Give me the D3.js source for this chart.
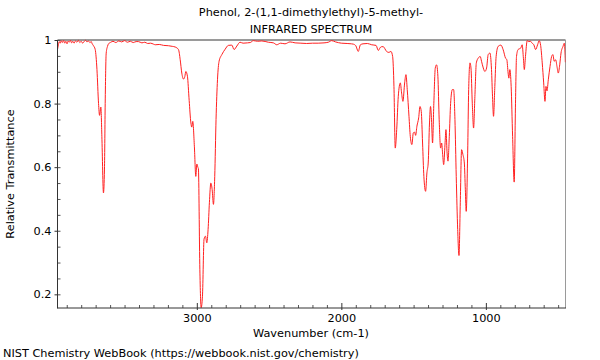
<!DOCTYPE html>
<html>
<head>
<meta charset="utf-8">
<script src="https://cdn.jsdelivr.net/npm/d3@7"></script>
<style>
  html, body { margin: 0; padding: 0; background: #fff; }
  svg { display: block; font-family: "DejaVu Sans", sans-serif; }
</style>
</head>
<body>
<svg id="chart" width="600" height="360"></svg>
<script>
const titleLines = ["Phenol, 2-(1,1-dimethylethyl)-5-methyl-", "INFRARED SPECTRUM"];
const xLabel = "Wavenumber (cm-1)";
const yLabel = "Relative Transmittance";
const footer = "NIST Chemistry WebBook (https://webbook.nist.gov/chemistry)";
const xTickLabels = [3000, 2000, 1000];
const yTickLabels = [0.2, 0.4, 0.6, 0.8, 1];

const wavenumbers = [
  3964, 3958, 3952, 3945, 3938, 3930, 3922, 3914, 3906, 3898, 3890, 3882, 3874, 3866, 3858, 3850,
  3840, 3830, 3820, 3810, 3800, 3790, 3780, 3770, 3760, 3750, 3740, 3730, 3726, 3715, 3703, 3691,
  3680, 3673, 3664, 3657, 3646, 3639, 3634, 3627, 3618, 3611, 3595, 3580, 3560, 3540, 3520, 3500,
  3480, 3460, 3440, 3420, 3404, 3380, 3360, 3340, 3320, 3300, 3288, 3260, 3230, 3196, 3170, 3150,
  3127, 3115, 3104, 3092, 3083, 3076, 3065, 3053, 3041, 3035, 3028, 3017, 3007, 3000, 2993, 2989,
  2979, 2970, 2961, 2950, 2940, 2931, 2922, 2913, 2903, 2894, 2885, 2876, 2867, 2857, 2846, 2827,
  2804, 2782, 2758, 2742, 2723, 2701, 2680, 2650, 2630, 2609, 2580, 2550, 2505, 2470, 2447, 2420,
  2390, 2355, 2320, 2280, 2240, 2200, 2160, 2120, 2090, 2067, 2040, 2000, 1960, 1930, 1917, 1900,
  1883, 1868, 1850, 1820, 1790, 1760, 1744, 1733, 1722, 1710, 1698, 1687, 1671, 1657, 1645, 1636,
  1627, 1617, 1606, 1592, 1583, 1574, 1562, 1553, 1544, 1532, 1523, 1512, 1502, 1493, 1486, 1477,
  1465, 1456, 1447, 1438, 1429, 1417, 1408, 1399, 1390, 1383, 1376, 1369, 1360, 1350, 1341, 1332,
  1323, 1313, 1306, 1299, 1292, 1283, 1276, 1269, 1262, 1253, 1244, 1232, 1223, 1214, 1205, 1195,
  1186, 1177, 1168, 1159, 1149, 1142, 1136, 1126, 1119, 1110, 1103, 1094, 1085, 1076, 1066, 1053,
  1039, 1030, 1018, 1007, 995, 984, 972, 961, 954, 947, 938, 929, 915, 896, 880, 864,
  855, 846, 841, 834, 825, 815, 804, 795, 788, 777, 758, 749, 740, 734, 726, 714,
  703, 691, 680, 668, 656, 642, 631, 621, 610, 600, 591, 584, 577, 568, 556, 545,
  536, 527, 517, 508, 499, 489, 480, 466, 457, 450
];
const transmittance = [
  0.970, 0.985, 0.995, 0.990, 0.998, 0.992, 0.999, 0.990, 0.996, 0.988, 0.997, 0.993, 0.999, 0.991, 0.996, 0.990,
  0.997, 0.993, 0.999, 0.992, 0.996, 0.990, 0.995, 0.999, 0.994, 0.997, 0.992, 0.995, 0.990, 0.982, 0.970, 0.907,
  0.800, 0.763, 0.789, 0.697, 0.519, 0.594, 0.800, 0.959, 0.980, 0.988, 0.993, 0.996, 0.992, 0.997, 0.994, 0.998,
  0.993, 0.996, 0.992, 0.995, 0.995, 0.991, 0.993, 0.989, 0.990, 0.987, 0.985, 0.986, 0.983, 0.982, 0.980, 0.978,
  0.970, 0.938, 0.896, 0.877, 0.885, 0.901, 0.886, 0.810, 0.739, 0.726, 0.744, 0.666, 0.571, 0.610, 0.600, 0.595,
  0.279, 0.158, 0.194, 0.374, 0.383, 0.362, 0.404, 0.488, 0.550, 0.530, 0.483, 0.571, 0.750, 0.875, 0.933, 0.954,
  0.971, 0.983, 0.984, 0.970, 0.981, 0.993, 0.990, 0.991, 0.992, 0.998, 0.996, 0.997, 0.993, 0.991, 0.985, 0.990,
  0.988, 0.994, 0.991, 0.990, 0.989, 0.990, 0.990, 0.991, 0.993, 0.998, 0.994, 0.990, 0.989, 0.988, 0.987, 0.982,
  0.964, 0.985, 0.988, 0.989, 0.985, 0.983, 0.967, 0.975, 0.979, 0.979, 0.972, 0.964, 0.961, 0.964, 0.948, 0.854,
  0.660, 0.718, 0.823, 0.865, 0.833, 0.807, 0.865, 0.891, 0.844, 0.760, 0.697, 0.671, 0.708, 0.710, 0.700, 0.729,
  0.755, 0.791, 0.775, 0.676, 0.571, 0.524, 0.582, 0.613, 0.739, 0.791, 0.749, 0.676, 0.801, 0.912, 0.922, 0.886,
  0.749, 0.660, 0.676, 0.640, 0.608, 0.670, 0.718, 0.650, 0.619, 0.697, 0.800, 0.844, 0.844, 0.750, 0.571, 0.404,
  0.322, 0.488, 0.655, 0.640, 0.613, 0.529, 0.461, 0.644, 0.844, 0.928, 0.912, 0.801, 0.723, 0.822, 0.928, 0.943,
  0.948, 0.933, 0.912, 0.901, 0.912, 0.954, 0.959, 0.907, 0.823, 0.760, 0.854, 0.948, 0.980, 0.984, 0.969, 0.943,
  0.938, 0.896, 0.880, 0.907, 0.854, 0.697, 0.553, 0.801, 0.948, 0.970, 0.975, 0.985, 0.941, 0.907, 0.948, 0.998,
  0.995, 0.996, 0.990, 0.985, 0.970, 0.985, 0.998, 0.983, 0.928, 0.865, 0.807, 0.854, 0.840, 0.875, 0.917, 0.948,
  0.954, 0.933, 0.938, 0.917, 0.896, 0.922, 0.959, 0.980, 0.990, 0.930
];

const FS = 11.3;
const svg = d3.select("#chart");
const mLeft = 57.5, mRight = 565.5, mTop = 40, mBottom = 308;

const x = d3.scaleLinear().domain([3964, 449]).range([mLeft, mRight]);
const y = d3.scaleLinear().domain([0.157, 1.0]).range([mBottom, mTop]);

const data = wavenumbers.map((w, i) => [w, transmittance[i]]);
svg.append("defs").append("clipPath").attr("id", "clip")
  .append("rect").attr("x", mLeft).attr("y", mTop - 1).attr("width", mRight - mLeft).attr("height", mBottom - mTop + 1);

// frame: top & right gray
svg.append("line").attr("x1", mLeft).attr("x2", mRight).attr("y1", mTop).attr("y2", mTop)
  .attr("stroke", "#9a9a9a").attr("stroke-width", 2);
svg.append("line").attr("x1", mRight).attr("x2", mRight).attr("y1", mTop).attr("y2", mBottom)
  .attr("stroke", "#9a9a9a").attr("stroke-width", 1);

svg.append("path").datum(data)
  .attr("clip-path", "url(#clip)")
  .attr("fill", "none").attr("stroke", "#ff2020").attr("stroke-width", 1)
  .attr("stroke-linejoin", "round")
  .attr("d", d3.line().x(d => x(d[0])).y(d => y(d[1])).curve(d3.curveMonotoneX));

// X axis: minor ticks every 100 inside
const xMinor = d3.range(500, 4000, 100).filter(v => v % 1000 !== 0 && v <= 3964 && v >= 449);
const gx = svg.append("g").attr("transform", `translate(0,${mBottom})`);
gx.call(d3.axisTop(x).tickValues(xMinor).tickSize(3).tickFormat(""))
  .call(g => g.select(".domain").remove());
gx.selectAll("line").attr("stroke", "#555");
const gxMaj = svg.append("g").attr("transform", `translate(0,${mBottom})`);
gxMaj.call(d3.axisTop(x).tickValues(xTickLabels).tickSize(5).tickFormat(""))
  .call(g => g.select(".domain").remove());
gxMaj.selectAll("line").attr("stroke", "#333");
const gxLab = svg.append("g").attr("transform", `translate(0,${mBottom})`);
gxLab.call(d3.axisBottom(x).tickValues(xTickLabels).tickSize(2).tickPadding(4).tickFormat(d3.format("d")))
  .call(g => g.select(".domain").remove());
gxLab.selectAll("line").attr("stroke", "#333");
gxLab.selectAll("text").attr("font-size", FS).attr("font-family", "DejaVu Sans").attr("fill", "#000");

// Y axis
const yMinor = d3.range(4, 21).map(v => v * 0.05);
const gy = svg.append("g").attr("transform", `translate(${mLeft},0)`);
gy.call(d3.axisRight(y).tickValues(yMinor).tickSize(3).tickFormat(""))
  .call(g => g.select(".domain").remove());
gy.selectAll("line").attr("stroke", "#555");
const gyLab = svg.append("g").attr("transform", `translate(${mLeft},0)`);
gyLab.call(d3.axisLeft(y).tickValues(yTickLabels).tickSize(3).tickPadding(3).tickFormat(d => d === 1 ? "1" : d3.format(".1f")(d)))
  .call(g => g.select(".domain").remove());
gyLab.selectAll("line").attr("stroke", "#333");
gyLab.selectAll("text").attr("font-size", FS).attr("font-family", "DejaVu Sans").attr("fill", "#000");

// left & bottom axis lines
svg.append("line").attr("x1", mLeft).attr("x2", mLeft).attr("y1", mTop).attr("y2", mBottom + 0.5)
  .attr("stroke", "#333").attr("stroke-width", 1);
svg.append("line").attr("x1", mLeft).attr("x2", mRight + 0.5).attr("y1", mBottom).attr("y2", mBottom)
  .attr("stroke", "#333").attr("stroke-width", 1);

// titles
svg.append("text").attr("x", 311).attr("y", 16).attr("text-anchor", "middle")
  .attr("font-size", FS).text(titleLines[0]);
svg.append("text").attr("x", 311).attr("y", 33).attr("text-anchor", "middle")
  .attr("font-size", FS).text(titleLines[1]);
svg.append("text").attr("x", 311).attr("y", 337).attr("text-anchor", "middle")
  .attr("font-size", FS).text(xLabel);
svg.append("text").attr("transform", "translate(14,174) rotate(-90)").attr("text-anchor", "middle")
  .attr("font-size", FS).text(yLabel);
svg.append("text").attr("x", 3).attr("y", 357).attr("font-size", FS).text(footer);
</script>
</body>
</html>
